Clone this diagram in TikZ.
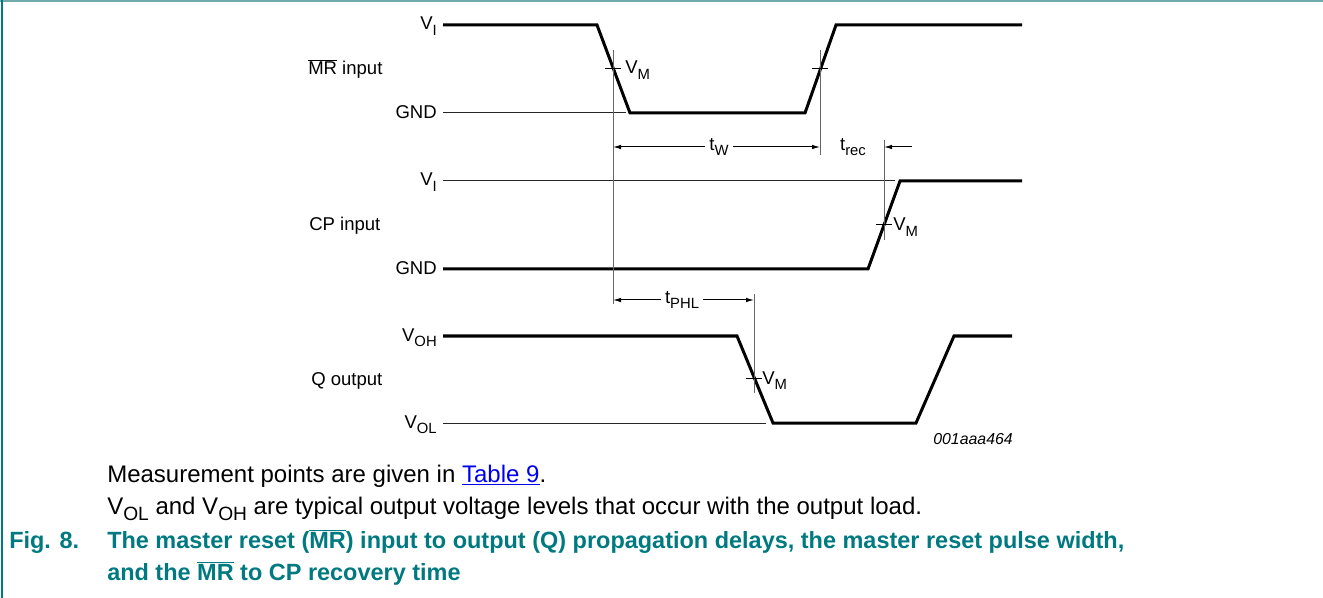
\documentclass[tikz,border=0pt]{standalone}
\usepackage{fontspec}
\setmainfont{Liberation Sans}
\usetikzlibrary{arrows.meta}
\definecolor{figteal}{RGB}{0,122,128}
\definecolor{rulegray}{RGB}{112,170,170}
\definecolor{linkblue}{RGB}{0,0,238}
\newcommand{\nMR}{$\overline{\mbox{MR}}$}
\newcommand{\lsub}[1]{\raisebox{-0.28em}{\scalebox{0.8}{#1}}}

\begin{document}
\begin{tikzpicture}[x=0.75pt,y=-0.75pt,
  wave/.style={line width=2.25pt,line join=miter},
  level/.style={line width=0.75pt,black!85},
  marker/.style={line width=0.75pt,black!60},
  dim/.style={line width=0.75pt,-{Latex[length=6pt,width=3.4pt]}},
  lbl/.style={font=\fontsize{13.9}{16}\selectfont},
  dimlbl/.style={lbl,anchor=mid,inner xsep=3pt},
  body/.style={font=\fontsize{18}{21}\selectfont,anchor=base west},
  capt/.style={font=\fontsize{17.6}{21}\selectfont\bfseries,text=figteal,anchor=base west}]
\tikzstyle{every node}+=[inner sep=0pt]
\useasboundingbox (0,0) rectangle (1323,598);
\draw [rulegray,line width=1.5pt] (0,1) -- (1323,1);
\draw [figteal,line width=1.5pt] (2,0) -- (2,598);

\coordinate (mrfall) at (613,69);
\coordinate (mrrise) at (820,69);
\coordinate (cprise) at (884,225);
\coordinate (qfall) at (754,378);
\coordinate (trecin) at (912,147);

% MR input
\draw [level] (443,113) -- (626,113);
\draw [wave] (443,25) -- (597,25) -- (630,113) -- (805,113) -- (836,25) -- (1022,25);
\node [lbl,anchor=base east] (mrhi) at (437,30) {V\lsub{I}};
\node [lbl,anchor=base west] (mrname) at (308,75) {\nMR\ input};
\node [lbl,anchor=base east] (mrlo) at (437,119) {GND};

% CP input
\draw [level] (443,181) -- (895,181);
\draw [wave] (443,269) -- (868,269) -- (900,181) -- (1022,181);
\node [lbl,anchor=base east] (cphi) at (437,186) {V\lsub{I}};
\node [lbl,anchor=base west] (cpname) at (309,231) {CP input};
\node [lbl,anchor=base east] (cplo) at (437,275) {GND};

% Q output
\draw [level] (443,423) -- (766,423);
\draw [wave] (443,336) -- (737,336) -- (773,423) -- (916,423) -- (954,336) -- (1012,336);
\node [lbl,anchor=base east] (qhi) at (437,341) {V\lsub{OH}};
\node [lbl,anchor=base west] (qname) at (311,385) {Q output};
\node [lbl,anchor=base east] (qlo) at (437,428) {V\lsub{OL}};

% measurement points
\draw [marker] (613,50) -- (613,304);
\draw [marker] (820,50) -- (820,155);
\draw [marker] (884,140) -- (884,240);
\draw [marker] (754,294) -- (754,393);
\draw [black,line width=0.75pt] ([xshift=-6pt]mrfall) -- ([xshift=6pt]mrfall);
\draw [black,line width=0.75pt] ([xshift=-6pt]mrrise) -- ([xshift=6pt]mrrise);
\draw [black,line width=0.75pt] ([xshift=-6pt]cprise) -- ([xshift=6pt]cprise);
\draw [black,line width=0.75pt] ([xshift=-6pt]qfall) -- ([xshift=6pt]qfall);
\node [lbl,anchor=base west] (vm1) at (625,74) {V\lsub{M}};
\node [lbl,anchor=base west] (vm2) at (893,231) {V\lsub{M}};
\node [lbl,anchor=base west] (vm3) at (762,384) {V\lsub{M}};

% timing
\node [dimlbl] (tw) at (719,147) {t\lsub{W}};
\draw [dim] (tw.mid west) -- (tw.mid west -| mrfall);
\draw [dim] (tw.mid east) -- (tw.mid east -| mrrise);
\node [dimlbl] (trec) at (853,147) {t\lsub{rec}};
\draw [dim] (trecin) -- (trecin -| cprise);
\node [dimlbl] (tphl) at (682,300) {t\lsub{PHL}};
\draw [dim] (tphl.mid west) -- (tphl.mid west -| mrfall);
\draw [dim] (tphl.mid east) -- (tphl.mid east -| qfall);

\node [font=\fontsize{11.9}{14}\selectfont\itshape,anchor=base east] (figid) at (1013,444) {001aaa464};

% notes and caption
\node [body] (note1) at (107,482) {Measurement points are given in {\color{linkblue}\underline{Table 9}}.};
\node [body] (note2) at (107,514) {V\lsub{OL} and V\lsub{OH} are typical output voltage levels that occur with the output load.};
\node [capt] (fignum) at (9,548) {Fig. 8.};
\node [capt] (cap1) at (107,548) {The master reset (\nMR) input to output (Q) propagation delays, the master reset pulse width,};
\node [capt] (cap2) at (107,580) {and the \nMR\ to CP recovery time};
\end{tikzpicture}
\end{document}
